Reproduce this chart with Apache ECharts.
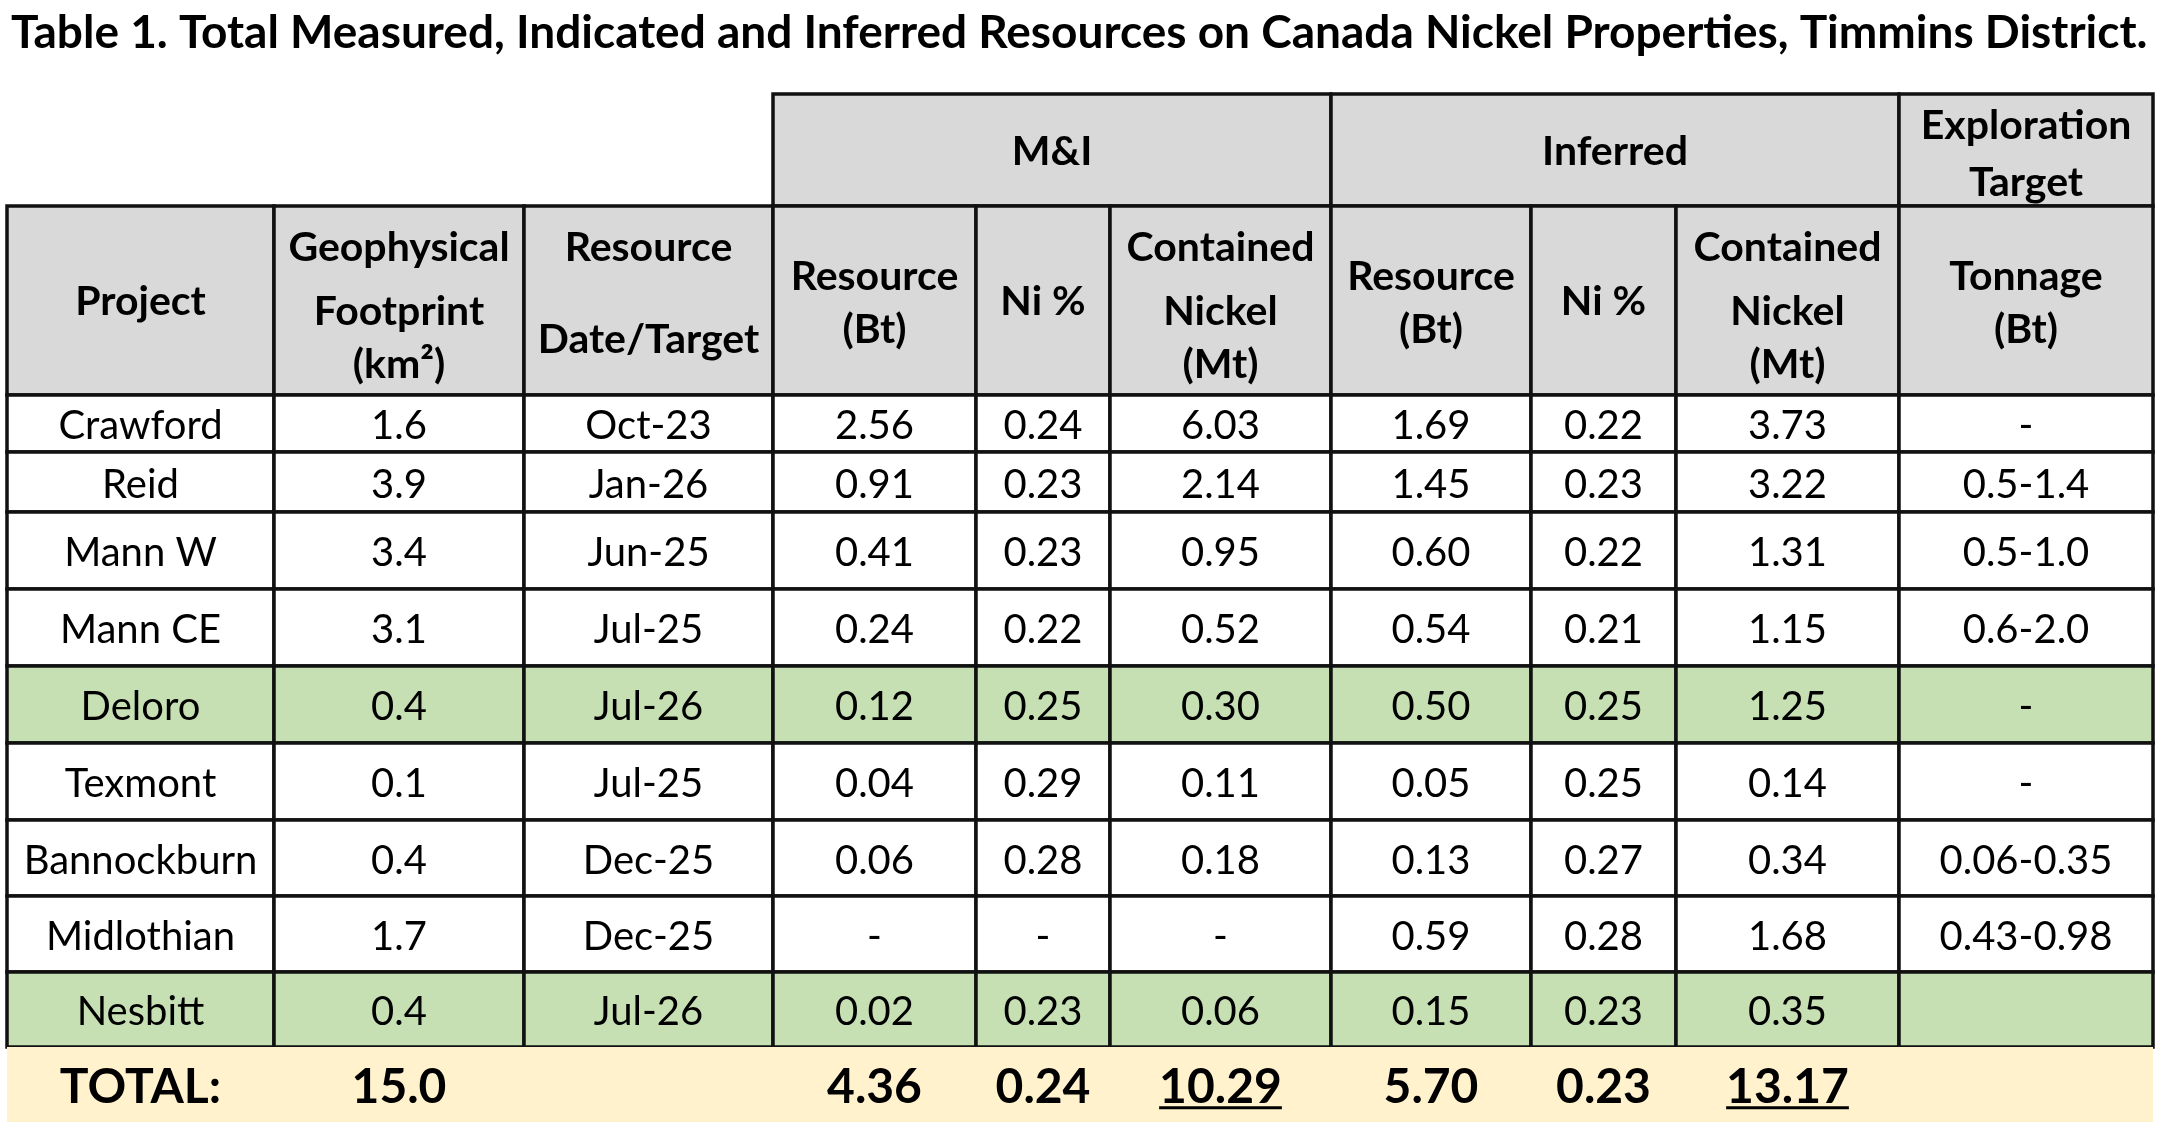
<!DOCTYPE html>
<html>
<head>
<meta charset="utf-8">
<style>
  html, body { margin: 0; padding: 0; background: #fff; }
  #main { width: 2158px; height: 1126px; }
</style>
<script src="https://cdn.jsdelivr.net/npm/echarts@6/dist/echarts.min.js"></script>
</head>
<body>
<div id="main"></div>
<script>
// ---- table content ----
var titleText = 'Table 1. Total Measured, Indicated and Inferred Resources on Canada Nickel Properties, Timmins District.';
var projects = ['Crawford', 'Reid', 'Mann W', 'Mann CE', 'Deloro', 'Texmont', 'Bannockburn', 'Midlothian', 'Nesbitt'];
var footprint = ['1.6', '3.9', '3.4', '3.1', '0.4', '0.1', '0.4', '1.7', '0.4'];
var resourceDate = ['Oct-23', 'Jan-26', 'Jun-25', 'Jul-25', 'Jul-26', 'Jul-25', 'Dec-25', 'Dec-25', 'Jul-26'];
var miResource = ['2.56', '0.91', '0.41', '0.24', '0.12', '0.04', '0.06', '-', '0.02'];
var miNi = ['0.24', '0.23', '0.23', '0.22', '0.25', '0.29', '0.28', '-', '0.23'];
var miNickel = ['6.03', '2.14', '0.95', '0.52', '0.30', '0.11', '0.18', '-', '0.06'];
var infResource = ['1.69', '1.45', '0.60', '0.54', '0.50', '0.05', '0.13', '0.59', '0.15'];
var infNi = ['0.22', '0.23', '0.22', '0.21', '0.25', '0.25', '0.27', '0.28', '0.23'];
var infNickel = ['3.73', '3.22', '1.31', '1.15', '1.25', '0.14', '0.34', '1.68', '0.35'];
var explTarget = ['-', '0.5-1.4', '0.5-1.0', '0.6-2.0', '-', '-', '0.06-0.35', '0.43-0.98', ''];
var highlighted = ['Deloro', 'Nesbitt'];
var totals = ['TOTAL:', '15.0', '', '4.36', '0.24', '10.29', '5.70', '0.23', '13.17', ''];
var underlinedTotals = ['10.29', '13.17'];

var groupHeaders = [['M&I'], ['Inferred'], ['Exploration', 'Target']];
var groupSpans = [[3, 6], [6, 9], [9, 10]];
var columnHeaders = [
    ['Project'], ['Geophysical', 'Footprint', '(km²)'], ['Resource', 'Date/Target'],
    ['Resource', '(Bt)'], ['Ni %'], ['Contained', 'Nickel', '(Mt)'],
    ['Resource', '(Bt)'], ['Ni %'], ['Contained', 'Nickel', '(Mt)'], ['Tonnage', '(Bt)']
];

// ---- layout (px units of the hidden axes) ----
var colWidths = [267, 250, 249, 203, 134, 221, 200, 145, 223, 254];
var rowHeights = [112, 189, 57, 60, 77, 77, 77, 77, 76, 76, 75, 75];
var groupLineY = [[58], [58], [32, 89]];
var headerLineY = [[96], [42, 106, 159], [42, 134], [71, 124], [96], [42, 106, 159], [71, 124], [96], [42, 106, 159], [71, 124]];

var FONT = 'Lato';
var GREY = '#d9d9d9', GREEN = '#c6e0b4', YELLOW = '#fff2cc', WHITE = '#ffffff', LINE = '#111111';

function edges(sizes) {
    var out = [0];
    sizes.forEach(function (s) { out.push(out[out.length - 1] + s); });
    return out;
}
var colX = edges(colWidths);
var rowY = edges(rowHeights);

var body = [projects, footprint, resourceDate, miResource, miNi, miNickel, infResource, infNi, infNickel, explTarget];

var cells = [];
// group header row
groupHeaders.forEach(function (lines, i) {
    var c0 = groupSpans[i][0], c1 = groupSpans[i][1];
    cells.push({
        x0: colX[c0], x1: colX[c1], y0: rowY[0], y1: rowY[1], fill: GREY, border: true,
        lines: lines.map(function (t, k) { return { text: t, y: rowY[0] + groupLineY[i][k] }; }),
        size: 41, weight: 'bold'
    });
});
// column header row
columnHeaders.forEach(function (lines, c) {
    cells.push({
        x0: colX[c], x1: colX[c + 1], y0: rowY[1], y1: rowY[2], fill: GREY, border: true,
        lines: lines.map(function (t, k) { return { text: t, y: rowY[1] + headerLineY[c][k] }; }),
        size: 41, weight: 'bold'
    });
});
// body rows
projects.forEach(function (name, r) {
    var y0 = rowY[r + 2], y1 = rowY[r + 3];
    var fill = highlighted.indexOf(name) >= 0 ? GREEN : WHITE;
    body.forEach(function (col, c) {
        cells.push({
            x0: colX[c], x1: colX[c + 1], y0: y0, y1: y1, fill: fill, border: true,
            lines: [{ text: col[r], y: (y0 + y1) / 2 + 3 }],
            size: 40, weight: 'normal'
        });
    });
});
// total row
var ty0 = rowY[rowHeights.length - 1], ty1 = rowY[rowHeights.length];
totals.forEach(function (t, c) {
    cells.push({
        x0: colX[c], x1: colX[c + 1], y0: ty0, y1: ty1, fill: YELLOW, border: false,
        lines: [{ text: t, y: (ty0 + ty1) / 2 + 3 }],
        size: 48, weight: 'bold', underline: underlinedTotals.indexOf(t) >= 0
    });
});

var measureCtx = document.createElement('canvas').getContext('2d');
function textWidth(text, size, weight) {
    measureCtx.font = weight + ' ' + size + 'px ' + FONT;
    return measureCtx.measureText(text).width;
}

var chartDom = document.getElementById('main');
var myChart = echarts.init(chartDom);
var option;

option = {
    backgroundColor: '#fff',
    animation: false,
    title: {
        text: titleText,
        left: 6,
        top: 5,
        textStyle: { fontFamily: FONT, fontWeight: 'bold', fontSize: 46, color: '#000' }
    },
    grid: { left: 7, top: 94, width: colX[colX.length - 1], height: rowY[rowY.length - 1] },
    xAxis: { type: 'value', min: 0, max: colX[colX.length - 1], show: false },
    yAxis: { type: 'value', min: 0, max: rowY[rowY.length - 1], inverse: true, show: false },
    series: [{
        type: 'custom',
        coordinateSystem: 'cartesian2d',
        encode: { x: [0, 2], y: [1, 3] },
        data: cells.map(function (c, i) { return [c.x0, c.y0, c.x1, c.y1, i]; }),
        renderItem: function (params, api) {
            var cell = cells[api.value(4)];
            var p0 = api.coord([api.value(0), api.value(1)]);
            var p1 = api.coord([api.value(2), api.value(3)]);
            var cx = (p0[0] + p1[0]) / 2;
            var children = [{
                type: 'rect',
                shape: { x: p0[0], y: p0[1], width: p1[0] - p0[0], height: p1[1] - p0[1] },
                style: {
                    fill: cell.fill,
                    stroke: cell.border ? LINE : null,
                    lineWidth: cell.border ? 3.5 : 0
                }
            }];
            cell.lines.forEach(function (ln) {
                var py = api.coord([0, ln.y])[1];
                children.push({
                    type: 'text',
                    style: {
                        text: ln.text, x: cx, y: py,
                        align: 'center', verticalAlign: 'middle',
                        fill: '#000', fontFamily: FONT, fontSize: cell.size, fontWeight: cell.weight
                    }
                });
                if (cell.underline) {
                    var w = textWidth(ln.text, cell.size, cell.weight);
                    var uy = py + cell.size * 0.42;
                    children.push({
                        type: 'line',
                        shape: { x1: cx - w / 2, y1: uy, x2: cx + w / 2, y2: uy },
                        style: { stroke: '#000', lineWidth: 3 }
                    });
                }
            });
            return { type: 'group', children: children };
        }
    }]
};

option && myChart.setOption(option);
</script>
</body>
</html>
